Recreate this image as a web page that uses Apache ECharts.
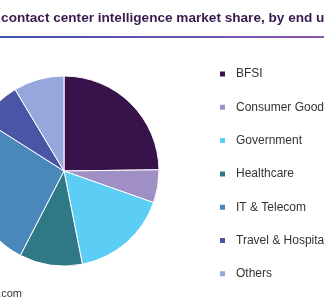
<!DOCTYPE html>
<html><head><meta charset="utf-8">
<script src="https://cdn.jsdelivr.net/npm/echarts@6/dist/echarts.min.js"></script>
<style>html,body{margin:0;padding:0;background:#fff}#c{width:324px;height:300px}</style>
</head><body><div id="c"></div>
<script>
const categories = ["BFSI","Consumer Goods","Government","Healthcare","IT & Telecom","Travel & Hospitality","Others"];
const shares = [24.8, 5.6, 16.5, 10.7, 26.4, 7.4, 8.6];
const colors = ["#38124a","#a08fc5","#5ccdf5","#2f7886","#4a88bb","#4b55a5","#97a7dc"];
const titleText = "Global contact center intelligence market share, by end use, 2020 (%)";
const sourceText = "Source: www.grandviewresearch.com";

const chart = echarts.init(document.getElementById('c'), null, {renderer:'canvas'});
chart.setOption({
  animation:false,
  color: colors,
  graphic:[
    {type:'text', left:-45, top:11, style:{text:titleText, font:'bold 13.6px "Liberation Sans", Arial', fill:'#3a1a4f'}},
    {type:'rect', shape:{x:0,y:36,width:324,height:2}, style:{fill:new echarts.graphic.LinearGradient(0,0,1,0,[{offset:0,color:'#3f51ad'},{offset:1,color:'#8857ad'}])}},
    {type:'text', x:22, y:288, style:{text:sourceText, font:'11px "Liberation Sans", Arial', fill:'#333', align:'right'}}
  ],
  legend:{
    orient:'vertical', left:218, top:67, padding:0,
    itemWidth:7, itemHeight:7, itemGap:19.3, icon:'rect',
    textStyle:{fontFamily:'"Liberation Sans", Arial', fontSize:12, color:'#333', lineHeight:14, padding:[0,0,0,5]},
    data: categories
  },
  series:[{
    type:'pie', center:[64,171], radius:[0,95], startAngle:90, clockwise:true,
    label:{show:false}, labelLine:{show:false},
    itemStyle:{borderColor:'#fff', borderWidth:1},
    emphasis:{disabled:true},
    data: categories.map((n,i)=>({name:n, value:shares[i]}))
  }]
});
</script></body></html>
